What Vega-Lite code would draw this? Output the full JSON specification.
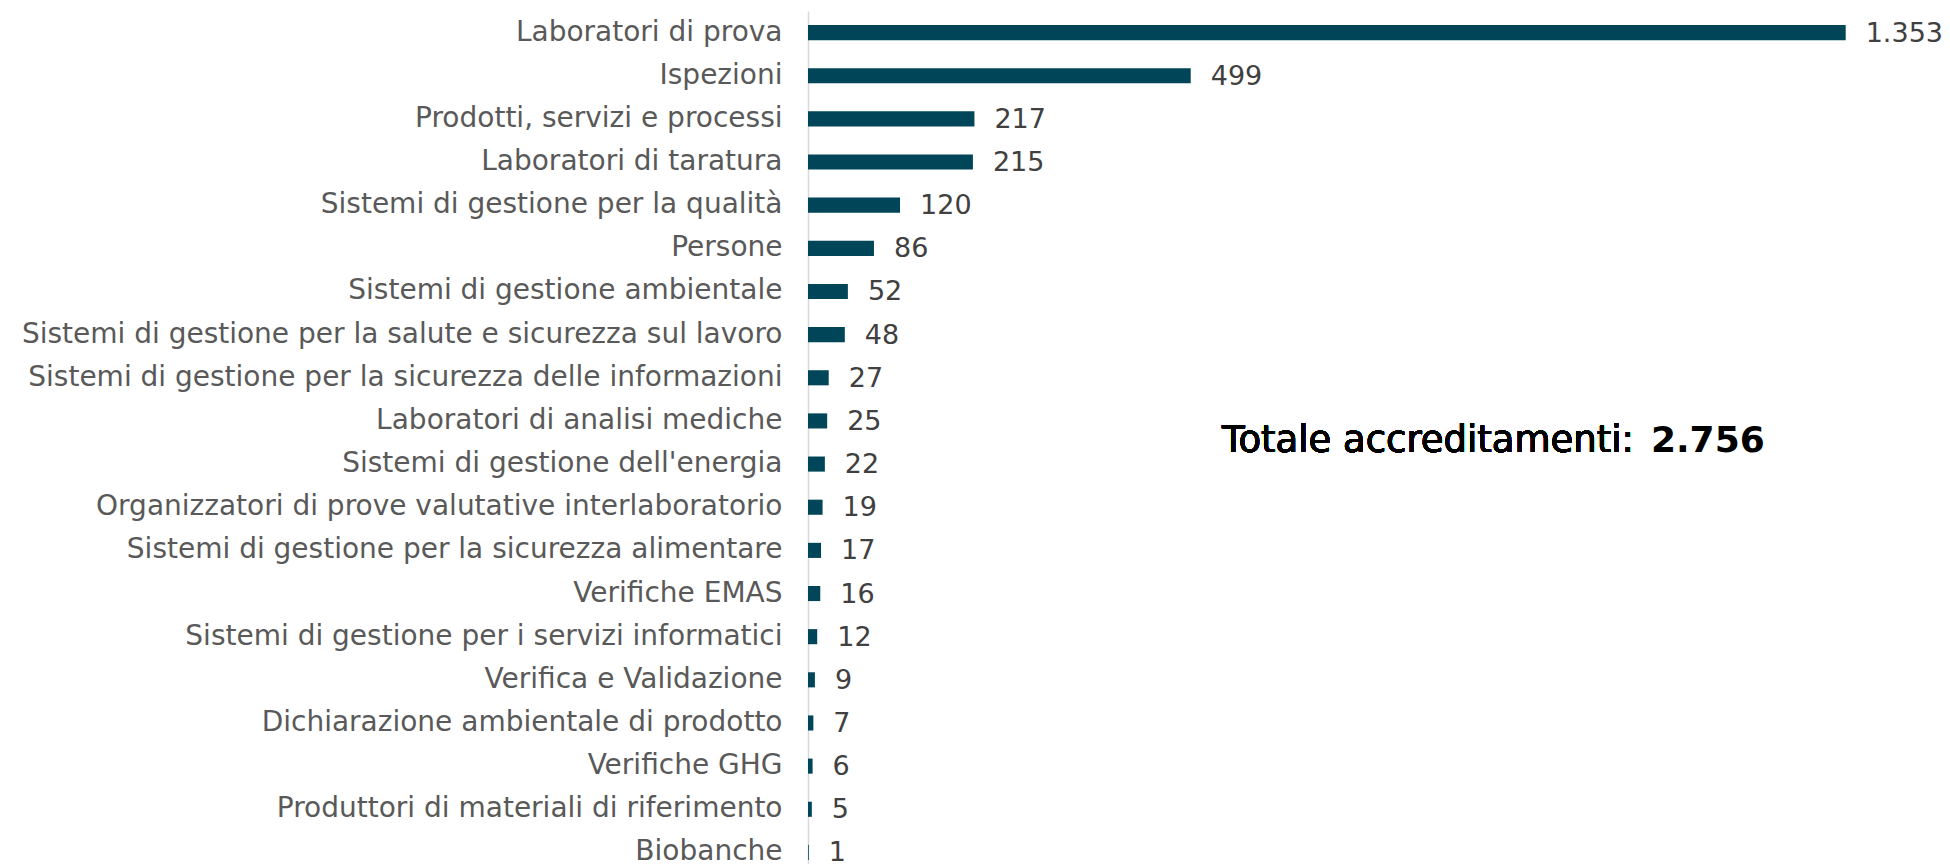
{
  "$schema": "https://vega.github.io/schema/vega-lite/v6.json",
  "autosize": "none",
  "padding": {"left": 808, "top": 11, "right": 0, "bottom": 0},
  "width": 1142,
  "height": 863,
  "background": "white",
  "config": {
    "view": {"stroke": null},
    "font": "DejaVu Sans",
    "locale": {"number": {"decimal": ",", "thousands": ".", "grouping": [3], "currency": ["€", ""]}}
  },
  "data": {
    "values": [
      {"settore": "Laboratori di prova", "valore": 1353},
      {"settore": "Ispezioni", "valore": 499},
      {"settore": "Prodotti, servizi e processi", "valore": 217},
      {"settore": "Laboratori di taratura", "valore": 215},
      {"settore": "Sistemi di gestione per la qualità", "valore": 120},
      {"settore": "Persone", "valore": 86},
      {"settore": "Sistemi di gestione ambientale", "valore": 52},
      {"settore": "Sistemi di gestione per la salute e sicurezza sul lavoro", "valore": 48},
      {"settore": "Sistemi di gestione per la sicurezza delle informazioni", "valore": 27},
      {"settore": "Laboratori di analisi mediche", "valore": 25},
      {"settore": "Sistemi di gestione dell'energia", "valore": 22},
      {"settore": "Organizzatori di prove valutative interlaboratorio", "valore": 19},
      {"settore": "Sistemi di gestione per la sicurezza alimentare", "valore": 17},
      {"settore": "Verifiche EMAS", "valore": 16},
      {"settore": "Sistemi di gestione per i servizi informatici", "valore": 12},
      {"settore": "Verifica e Validazione", "valore": 9},
      {"settore": "Dichiarazione ambientale di prodotto", "valore": 7},
      {"settore": "Verifiche GHG", "valore": 6},
      {"settore": "Produttori di materiali di riferimento", "valore": 5},
      {"settore": "Biobanche", "valore": 1}
    ]
  },
  "layer": [
    {
      "mark": {"type": "bar", "color": "#004558"},
      "encoding": {
        "y": {
          "field": "settore", "type": "nominal", "sort": null,
          "scale": {"paddingInner": 0.65, "paddingOuter": 0.325},
          "axis": {
            "title": null, "ticks": false, "domain": true, "domainColor": "#d9d9d9", "domainWidth": 1.5,
            "labelFont": "DejaVu Sans", "labelFontSize": 28, "labelColor": "#595959",
            "labelPadding": 26, "labelLimit": 0
          }
        },
        "x": {
          "field": "valore", "type": "quantitative",
          "scale": {"domain": [0, 1489], "nice": false},
          "axis": null
        }
      }
    },
    {
      "mark": {"type": "text", "align": "left", "baseline": "middle", "dx": 20, "dy": 1, "fontSize": 27, "color": "#404040", "font": "DejaVu Sans"},
      "encoding": {
        "y": {"field": "settore", "type": "nominal", "sort": null},
        "x": {"field": "valore", "type": "quantitative"},
        "text": {"field": "valore", "type": "quantitative", "format": ",d"}
      }
    },
    {
      "mark": {"type": "text", "align": "right", "baseline": "middle", "dy": 20, "fontSize": 37, "color": "#000000", "font": "DejaVu Sans"},
      "encoding": {
        "y": {"datum": "Laboratori di analisi mediche"},
        "x": {"datum": 1077},
        "text": {"value": "Totale accreditamenti:"}
      }
    },
    {
      "transform": [{"aggregate": [{"op": "sum", "field": "valore", "as": "totale"}]}],
      "mark": {"type": "text", "align": "left", "baseline": "middle", "dy": 20, "fontSize": 36, "fontWeight": "bold", "color": "#000000", "font": "DejaVu Sans"},
      "encoding": {
        "y": {"datum": "Laboratori di analisi mediche"},
        "x": {"datum": 1099},
        "text": {"field": "totale", "type": "quantitative", "format": ",d"}
      }
    }
  ]
}
